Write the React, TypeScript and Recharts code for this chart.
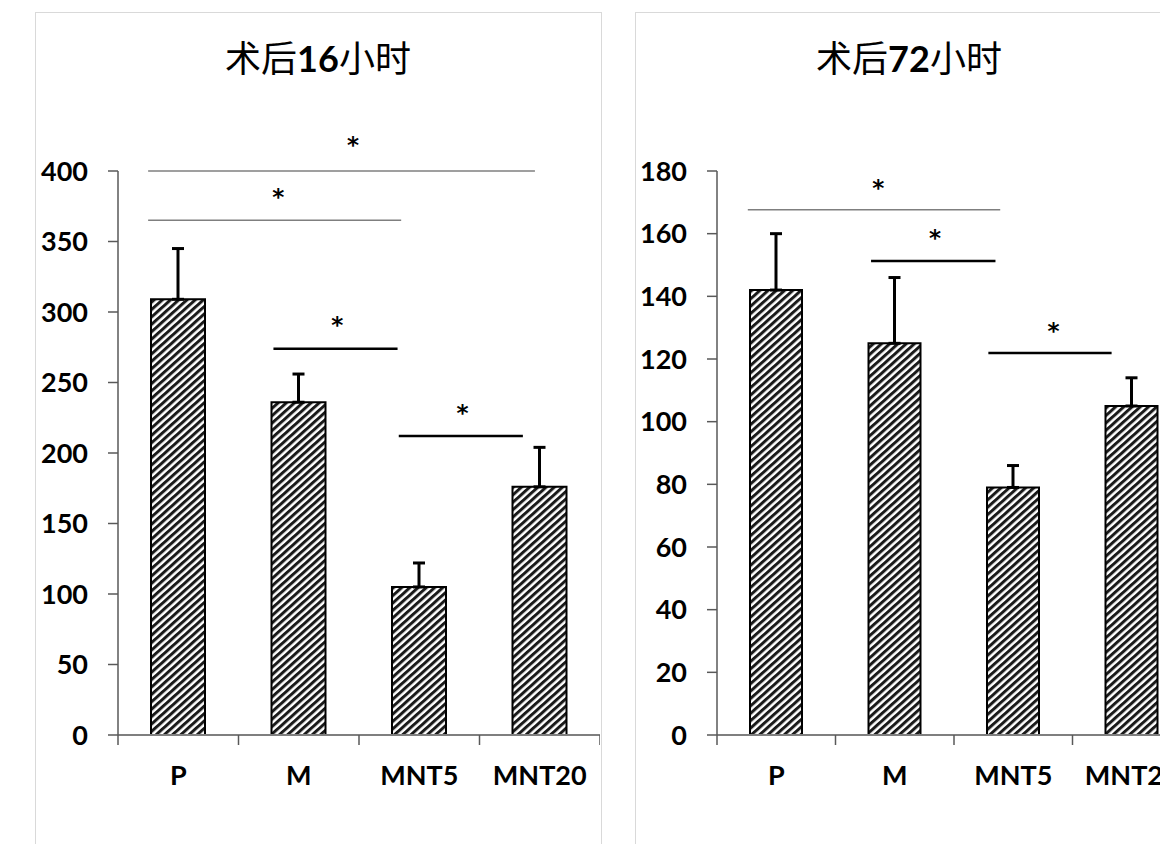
import React from 'react';
import {
  BarChart,
  Bar,
  XAxis,
  YAxis,
  ErrorBar,
  ReferenceLine,
  ReferenceDot,
} from 'recharts';

// Groupes
const categories = ['P', 'M', 'MNT5', 'MNT20'];

// 术后16小时
const values16 = [309, 236, 105, 176];
const errors16 = [36, 20, 17, 28];
const ticks16 = [0, 50, 100, 150, 200, 250, 300, 350, 400];

// 术后72小时
const values72 = [142, 125, 79, 105];
const errors72 = [18, 21, 7, 9];
const ticks72 = [0, 20, 40, 60, 80, 100, 120, 140, 160, 180];

// Lignes de significativité (x en unités de catégorie)
const brackets16 = [
  { x1: 0.25, x2: 3.46, y: 400, bold: false },
  { x1: 0.25, x2: 2.35, y: 365, bold: false },
  { x1: 1.29, x2: 2.32, y: 274, bold: true },
  { x1: 2.33, x2: 3.36, y: 212, bold: true },
];
const stars16 = [
  { x: 1.95, y: 422 },
  { x: 1.33, y: 385 },
  { x: 1.82, y: 294 },
  { x: 2.86, y: 232 },
];

const brackets72 = [
  { x1: 0.26, x2: 2.39, y: 167.6, bold: false },
  { x1: 1.3, x2: 2.35, y: 151.3, bold: true },
  { x1: 2.29, x2: 3.33, y: 121.9, bold: true },
];
const stars72 = [
  { x: 1.36, y: 176.2 },
  { x: 1.84, y: 160.2 },
  { x: 2.84, y: 130.5 },
];

const LATIN = 'Lato, "Open Sans", sans-serif';
const CJK = '"Noto Sans CJK SC", sans-serif';

// Positions des catégories et des séparateurs
const xTicks = categories.flatMap((_, i) => [i, i + 0.5]).concat(categories.length);

const buildData = (values: number[], errors: number[]) =>
  categories.map((name, i) => ({
    pos: i + 0.5,
    name,
    value: values[i],
    err: [0, errors[i]],
  }));

const CategoryTick = (props: any) => {
  const { x, y, payload } = props;
  const v = payload.value;
  if (Number.isInteger(v)) {
    return <line x1={x} x2={x} y1={y} y2={y + 10} stroke="#595959" strokeWidth={1.5} />;
  }
  return (
    <text
      x={x}
      y={y + 50}
      textAnchor="middle"
      fontFamily={LATIN}
      fontWeight={700}
      fontSize={27}
      fill="#000"
    >
      {categories[Math.floor(v)]}
    </text>
  );
};

const Star = (props: any) => (
  <text
    x={props.cx}
    y={props.cy + 13}
    textAnchor="middle"
    fontFamily='"DejaVu Sans", sans-serif'
    fontWeight={700}
    fontSize={23}
    fill="#000"
  >
    *
  </text>
);

interface PanelProps {
  values: number[];
  errors: number[];
  ticks: number[];
  brackets: { x1: number; x2: number; y: number; bold: boolean }[];
  stars: { x: number; y: number }[];
  left: number;
  width: number;
  marginLeft: number;
  marginRight: number;
  barSize: number;
}

const Panel: React.FC<PanelProps> = ({
  values,
  errors,
  ticks,
  brackets,
  stars,
  left,
  width,
  marginLeft,
  marginRight,
  barSize,
}) => {
  const data = buildData(values, errors);
  const max = ticks[ticks.length - 1];
  return (
    <div style={{ position: 'absolute', left, top: 0 }}>
      <BarChart
        width={width}
        height={844}
        data={data}
        margin={{ top: 171, right: marginRight, left: marginLeft, bottom: 49 }}
      >
        <XAxis
          dataKey="pos"
          type="number"
          domain={[0, categories.length]}
          ticks={xTicks}
          interval={0}
          tickLine={false}
          tickSize={0}
          tickMargin={0}
          height={60}
          axisLine={{ stroke: '#7f7f7f', strokeWidth: 2 }}
          tick={<CategoryTick />}
        />
        <YAxis
          type="number"
          domain={[0, max]}
          ticks={ticks}
          interval={0}
          width={80}
          tickSize={10}
          tickMargin={20}
          axisLine={{ stroke: '#595959', strokeWidth: 1.5 }}
          tickLine={{ stroke: '#595959', strokeWidth: 1.5 }}
          tick={{ fill: '#000', fontFamily: LATIN, fontWeight: 700, fontSize: 27 }}
        />
        <Bar
          dataKey="value"
          barSize={barSize}
          fill="url(#hatch)"
          stroke="#000"
          strokeWidth={2}
          isAnimationActive={false}
        >
          <ErrorBar dataKey="err" direction="y" width={6} strokeWidth={3} stroke="#000" />
        </Bar>
        {brackets.map((b, i) => (
          <ReferenceLine
            key={`b${i}`}
            segment={[
              { x: b.x1, y: b.y },
              { x: b.x2, y: b.y },
            ]}
            stroke={b.bold ? '#000' : '#7f7f7f'}
            strokeWidth={b.bold ? 2.5 : 1.5}
            ifOverflow="visible"
          />
        ))}
        {stars.map((s, i) => (
          <ReferenceDot key={`s${i}`} x={s.x} y={s.y} r={0} ifOverflow="visible" shape={<Star />} />
        ))}
      </BarChart>
    </div>
  );
};

const Title = ({ x, hours }: { x: number; hours: string }) => (
  <div
    style={{
      position: 'absolute',
      left: x - 150,
      top: 31,
      width: 300,
      textAlign: 'center',
      fontFamily: CJK,
      fontSize: 36,
      lineHeight: '50px',
      color: '#000',
    }}
  >
    术后<span style={{ fontFamily: LATIN, fontWeight: 700 }}>{hours}</span>小时
  </div>
);

export default function App() {
  return (
    <div style={{ position: 'relative', width: 1160, height: 844, overflow: 'hidden', background: '#fff' }}>
      <style>{'body{margin:0}'}</style>
      <svg width={0} height={0} style={{ position: 'absolute' }}>
        <defs>
          <pattern id="hatch" width={8} height={5.5} patternUnits="userSpaceOnUse" patternTransform="rotate(-42)">
            <rect width={8} height={5.5} fill="#fff" />
            <rect width={8} height={3} fill="#1a1a1a" />
          </pattern>
        </defs>
      </svg>
      <div style={{ position: 'absolute', left: 35, top: 12, width: 565, height: 900, border: '1px solid #d9d9d9' }} />
      <div style={{ position: 'absolute', left: 635, top: 12, width: 600, height: 900, border: '1px solid #d9d9d9' }} />
      <Title x={318} hours="16" />
      <Title x={909} hours="72" />
      <Panel
        values={values16}
        errors={errors16}
        ticks={ticks16}
        brackets={brackets16}
        stars={stars16}
        left={0}
        width={600}
        marginLeft={38}
        marginRight={0}
        barSize={54}
      />
      <Panel
        values={values72}
        errors={errors72}
        ticks={ticks72}
        brackets={brackets72}
        stars={stars72}
        left={620}
        width={581}
        marginLeft={17}
        marginRight={10}
        barSize={52}
      />
    </div>
  );
}
